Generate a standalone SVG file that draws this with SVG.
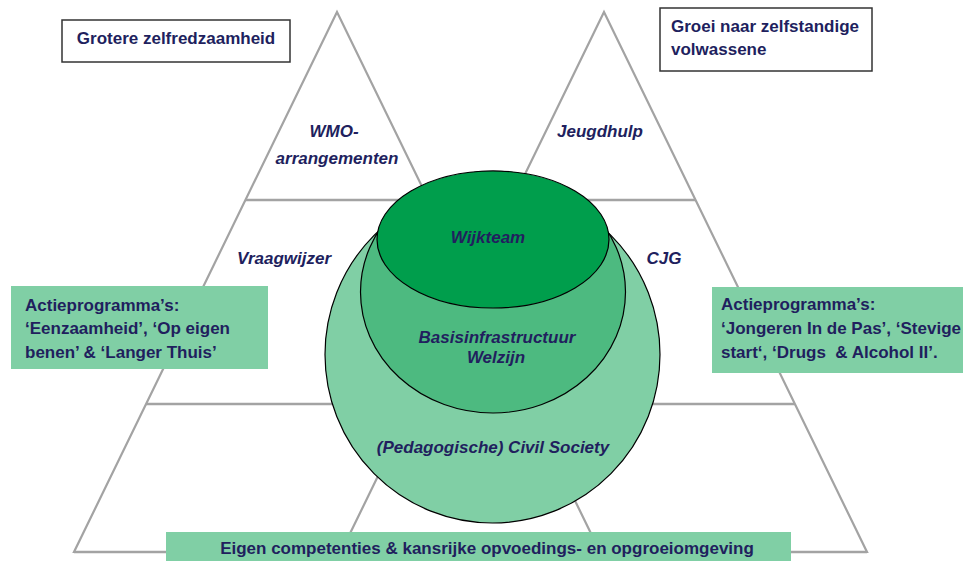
<svg xmlns="http://www.w3.org/2000/svg" width="963" height="561" viewBox="0 0 963 561">
<style>
.tri{fill:none;stroke:#a3a3a3;stroke-width:2.2;stroke-linejoin:miter}
.hl{stroke:#a3a3a3;stroke-width:2.6}
.t{font-family:"Liberation Sans",Arial,sans-serif;font-weight:bold;font-size:17px;fill:#211f5e}
.i{font-style:italic}
.c{text-anchor:middle}
.wbox{fill:#ffffff;stroke:#333333;stroke-width:1.5}
.gbox{fill:#80cfa5;stroke:none}
.ring{stroke:#000000;stroke-width:1.2}
</style>
<rect width="963" height="561" fill="#ffffff"/>
<g id="connectors">
<polygon class="tri" points="337,12 74,552 600,552"/>
<polygon class="tri" points="604,12 341,552 867,552"/>
<line class="hl" x1="245" y1="200" x2="429" y2="200"/>
<line class="hl" x1="512" y1="200" x2="696" y2="200"/>
<line class="hl" x1="146" y1="404" x2="528" y2="404"/>
<line class="hl" x1="413" y1="404" x2="795" y2="404"/>
<line class="hl" x1="74" y1="552" x2="867" y2="552"/>
</g>
<g id="wmo"><text class="t i c" x="334" y="137">WMO-</text><text class="t i c" x="337" y="164">arrangementen</text></g>
<g id="vraagwijzer"><text class="t i c" x="284" y="264">Vraagwijzer</text></g>
<g id="jeugdhulp"><text class="t i c" x="600" y="137">Jeugdhulp</text></g>
<g id="cjg"><text class="t i c" x="664" y="264">CJG</text></g>
<g id="civil-society"><ellipse class="ring" cx="492.5" cy="354.5" rx="167.5" ry="168.5" fill="#80cfa5"/><text class="t i c" x="493" y="453">(Pedagogische) Civil Society</text></g>
<g id="basis"><ellipse class="ring" cx="493" cy="292" rx="132.5" ry="121" fill="#4dba80"/><text class="t i c" x="497" y="343">Basisinfrastructuur</text><text class="t i c" x="496" y="363">Welzijn</text></g>
<g id="wijkteam"><ellipse class="ring" cx="493" cy="239.5" rx="116" ry="68.5" fill="#009e4c"/><text class="t i c" x="488" y="243">Wijkteam</text></g>
<g id="box-zelfredzaamheid"><rect class="wbox" x="62" y="20" width="228" height="42"/><text class="t c" x="176" y="44">Grotere zelfredzaamheid</text></g>
<g id="box-volwassene"><rect class="wbox" x="660" y="8" width="212" height="63"/><text class="t" x="671" y="32">Groei naar zelfstandige</text><text class="t" x="671" y="55">volwassene</text></g>
<g id="box-actie-links"><rect class="gbox" x="11" y="286" width="257" height="83"/><text class="t" x="25" y="311">Actieprogramma’s:</text><text class="t" x="25" y="334">‘Eenzaamheid’, ‘Op eigen</text><text class="t" x="25" y="358">benen’ &amp; ‘Langer Thuis’</text></g>
<g id="box-actie-rechts"><rect class="gbox" x="712" y="287" width="260" height="86"/><text class="t" x="721" y="310">Actieprogramma’s:</text><text class="t" x="721" y="334" xml:space="preserve">‘Jongeren In de Pas’, ‘Stevige</text><text class="t" x="721" y="358" xml:space="preserve">start‘, ‘Drugs  &amp; Alcohol II’.</text></g>
<g id="box-eigen"><rect class="gbox" x="166" y="532" width="625" height="35"/><text class="t c" x="487" y="554">Eigen competenties &amp; kansrijke opvoedings- en opgroeiomgeving</text></g>
</svg>
